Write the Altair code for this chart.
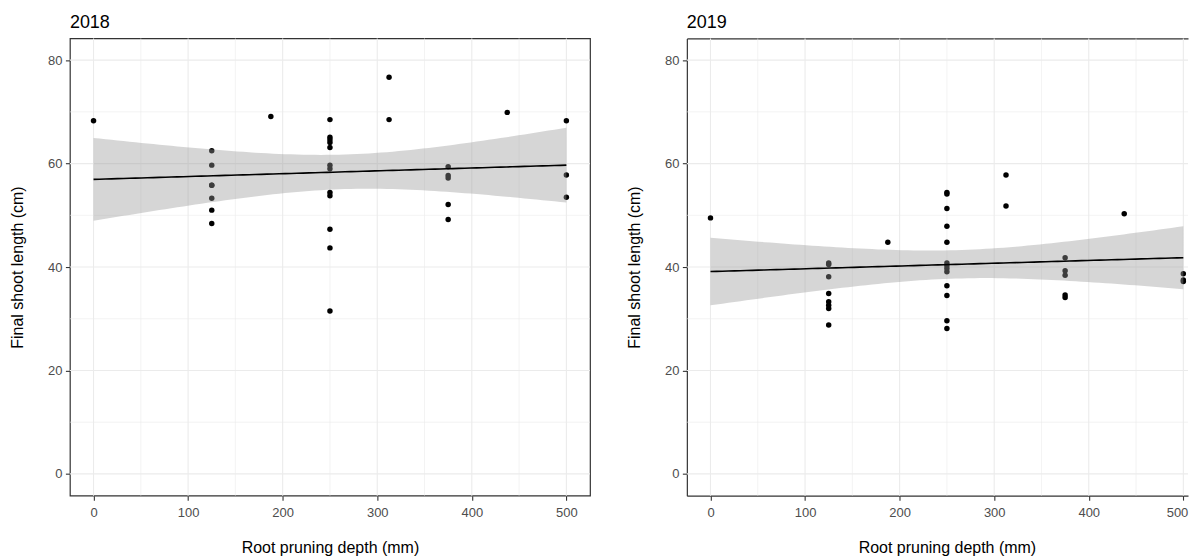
import altair as alt
import numpy as np
import pandas as pd

# ---------------- data ----------------
depth_2018 = [0,
              125, 125, 125, 125, 125, 125, 125,
              187.5,
              250, 250, 250, 250, 250, 250, 250, 250, 250, 250, 250, 250,
              312.5, 312.5,
              375, 375, 375, 375, 375,
              437.5,
              500, 500, 500]
length_2018 = [68.3,
               62.5, 59.7, 55.8, 55.8, 53.3, 51.0, 48.4,
               69.1,
               68.5, 65.1, 64.6, 64.1, 63.1, 59.7, 59.0, 54.4, 53.8, 47.3, 43.7, 31.5,
               76.7, 68.5,
               59.4, 57.7, 57.2, 52.1, 49.2,
               69.9,
               68.3, 57.8, 53.5]

depth_2019 = [0,
              125, 125, 125, 125, 125, 125, 125, 125,
              187.5,
              250, 250, 250, 250, 250, 250, 250, 250, 250, 250, 250, 250, 250,
              312.5, 312.5,
              375, 375, 375, 375, 375,
              437.5,
              500, 500, 500]
length_2019 = [49.5,
               40.8, 40.5, 38.1, 34.9, 33.3, 32.6, 32.0, 28.8,
               44.8,
               54.4, 54.1, 51.3, 47.9, 44.8, 40.8, 40.3, 39.7, 39.1, 36.4, 34.5, 29.6, 28.1,
               57.8, 51.8,
               41.8, 39.3, 38.4, 34.6, 34.1,
               50.3,
               38.7, 37.5, 37.2]

x_major = [0, 100, 200, 300, 400, 500]
x_minor = [50, 150, 250, 350, 450]
y_major = [0, 20, 40, 60, 80]
y_minor = [10, 30, 50, 70]

FONT = "Liberation Sans"
FULL_W = 521
X_DOMAIN = [-25, 525]
Y_DOMAIN = [-4.2, 84.2]
BORDER = "#333333"


def t975(df):
    z = 1.959963985
    g1 = (z**3 + z) / 4
    g2 = (5 * z**5 + 16 * z**3 + 3 * z) / 96
    g3 = (3 * z**7 + 19 * z**5 + 17 * z**3 - 15 * z) / 384
    return z + g1 / df + g2 / df**2 + g3 / df**3


def lm_band(xs, ys, n_grid=80):
    x = np.asarray(xs, float)
    y = np.asarray(ys, float)
    n = len(x)
    xm = x.mean()
    sxx = ((x - xm) ** 2).sum()
    b = ((x - xm) * (y - y.mean())).sum() / sxx
    a = y.mean() - b * xm
    s = np.sqrt(((y - (a + b * x)) ** 2).sum() / (n - 2))
    g = np.linspace(x.min(), x.max(), n_grid)
    fit = a + b * g
    se = s * np.sqrt(1 / n + (g - xm) ** 2 / sxx)
    t = t975(n - 2)
    return pd.DataFrame({"x": g, "fit": fit, "lo": fit - t * se, "hi": fit + t * se})


def panel(title, xs, ys, width, open_right=False):
    pts = pd.DataFrame({"x": xs, "y": ys})
    band = lm_band(xs, ys)
    xmax = X_DOMAIN[0] + width * (X_DOMAIN[1] - X_DOMAIN[0]) / FULL_W
    xsc = alt.Scale(domain=[X_DOMAIN[0], xmax], nice=False, zero=False)
    ysc = alt.Scale(domain=Y_DOMAIN, nice=False, zero=False)

    xaxis_kw = dict(values=x_major, grid=False, domain=open_right, domainColor=BORDER,
                    domainWidth=1.2, ticks=True, tickSize=4.5,
                    tickColor=BORDER, tickWidth=1.1, labelFontSize=13,
                    labelColor="#4d4d4d", labelFont=FONT, labelPadding=6,
                    title="Root pruning depth (mm)", titleFont=FONT, titleFontSize=16,
                    titleFontWeight="normal", titleColor="#000000", titlePadding=20)
    if open_right:
        # the panel is cropped at the right edge of the picture
        xaxis_kw["titleX"] = FULL_W / 2
        xaxis_kw["labelFlush"] = 8
        xaxis_kw["labelFlushOffset"] = 4.5
    xaxis = alt.Axis(**xaxis_kw)
    yaxis = alt.Axis(values=y_major, grid=False, domain=open_right, domainColor=BORDER,
                     domainWidth=1.2, ticks=True, tickSize=4.5,
                     tickColor=BORDER, tickWidth=1.1, labelFontSize=13,
                     labelColor="#4d4d4d", labelFont=FONT, labelPadding=3.5,
                     title="Final shoot length (cm)", titleFont=FONT, titleFontSize=16,
                     titleFontWeight="normal", titleColor="#000000", titlePadding=22)
    topaxis = alt.Axis(orient="top", values=x_major, grid=False, labels=False, ticks=False,
                       domain=True, domainColor=BORDER, domainWidth=1.2, title=None)

    # in the open (cropped) panel the x axes are independent: one bottom, one top (border)
    data_axis = None if open_right else xaxis
    minor_axis = topaxis if open_right else xaxis

    gx_min = alt.Chart(pd.DataFrame({"v": x_minor})).mark_rule(
        color="#ebebeb", strokeWidth=0.6).encode(
        x=alt.X("v:Q", scale=xsc, axis=minor_axis))
    gy_min = alt.Chart(pd.DataFrame({"v": y_minor})).mark_rule(
        color="#ebebeb", strokeWidth=0.6).encode(y=alt.Y("v:Q", scale=ysc, axis=yaxis))
    gx_maj = alt.Chart(pd.DataFrame({"v": x_major})).mark_rule(
        color="#ebebeb", strokeWidth=1.1).encode(x=alt.X("v:Q", scale=xsc, axis=xaxis))
    gy_maj = alt.Chart(pd.DataFrame({"v": y_major})).mark_rule(
        color="#ebebeb", strokeWidth=1.1).encode(y=alt.Y("v:Q", scale=ysc, axis=yaxis))

    points = alt.Chart(pts).mark_circle(size=30, color="#000000", opacity=1).encode(
        x=alt.X("x:Q", scale=xsc, axis=data_axis),
        y=alt.Y("y:Q", scale=ysc, axis=yaxis))
    ribbon = alt.Chart(band).mark_area(color="#999999", opacity=0.4).encode(
        x=alt.X("x:Q", scale=xsc, axis=data_axis),
        y=alt.Y("lo:Q", scale=ysc, axis=yaxis),
        y2="hi:Q")
    line = alt.Chart(band).mark_line(color="#000000", strokeWidth=1.6).encode(
        x=alt.X("x:Q", scale=xsc, axis=data_axis),
        y=alt.Y("fit:Q", scale=ysc, axis=yaxis))
    head = alt.Chart(pd.DataFrame({"t": [title]})).mark_text(
        align="left", baseline="alphabetic", fontSize=18, font=FONT,
        color="#000000").encode(text="t:N", x=alt.value(0), y=alt.value(-10))

    layered = alt.layer(gx_min, gy_min, gx_maj, gy_maj, points, ribbon, line, head)
    if open_right:
        layered = layered.resolve_axis(x="independent").properties(
            view=alt.ViewBackground(strokeOpacity=0))
    return layered.properties(width=width, height=458)


p1 = panel("2018", depth_2018, length_2018, FULL_W)
p2 = panel("2019", depth_2019, length_2019, 502, open_right=True)

chart = alt.hconcat(p1, p2, spacing=34).configure_view(
    stroke=BORDER, strokeWidth=1.2).properties(
    padding={"left": 0, "top": 5, "right": 0, "bottom": 0},
    background="#ffffff")

chart.save("out.html", embed_options={"renderer": "svg", "actions": False})
